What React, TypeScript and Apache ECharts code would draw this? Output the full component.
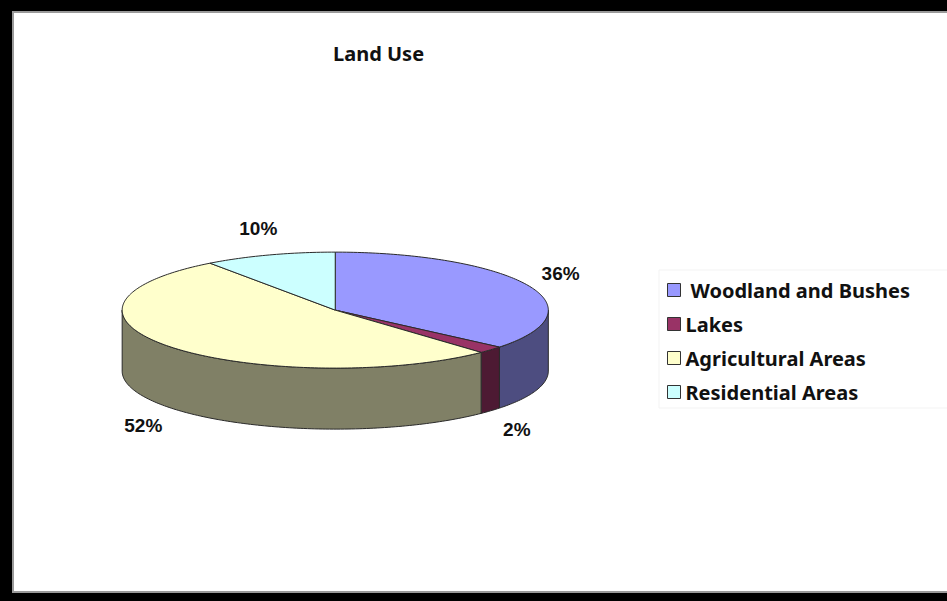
import React, { useEffect, useRef } from "react";
import * as echarts from "echarts";

const categories = ["Woodland and Bushes", "Lakes", "Agricultural Areas", "Residential Areas"];
const values = [36, 2, 52, 10];
const topColors = ["#9999FF", "#993366", "#FFFFCC", "#CCFFFF"];
const sideColors = ["#4D4D80", "#4D1A33", "#808066", "#668080"];
const titleText = "Land Use";

const total = values.reduce((a, b) => a + b, 0);
const starts = values.map((_, i) => values.slice(0, i).reduce((a, b) => a + b, 0));

function renderSlice(params: any, api: any) {
  const i = params.seriesIndex;
  const start = (api.value(0) / total) * Math.PI * 2;
  const end = ((api.value(0) + api.value(1)) / total) * Math.PI * 2;
  const W = api.getWidth();
  const H = api.getHeight();
  const cx = W * 0.354;
  const cy = H * 0.516;
  const rx = W * 0.225;
  const ry = H * 0.0965;
  const depth = H * 0.1015;
  const pt = (t: number, dy = 0) => [cx + rx * Math.sin(t), cy - ry * Math.cos(t) + dy];
  const arc = (a1: number, a2: number, dy = 0) => {
    const n = Math.max(2, Math.ceil(Math.abs(a2 - a1) / (Math.PI / 180)));
    const out: number[][] = [];
    for (let k = 0; k <= n; k++) out.push(pt(a1 + ((a2 - a1) * k) / n, dy));
    return out;
  };
  const children: any[] = [];
  const s1 = Math.max(start, Math.PI / 2);
  const s2 = Math.min(end, (Math.PI * 3) / 2);
  if (s2 > s1) {
    const pts = arc(s1, s2).concat(arc(s2, s1, depth));
    children.push({
      type: "polygon",
      z2: 1,
      shape: { points: pts },
      style: { fill: sideColors[i], stroke: "#2a2a2a", lineWidth: 1 },
    });
  }
  children.push({
    type: "polygon",
    z2: 10,
    shape: { points: [[cx, cy]].concat(arc(start, end)) },
    style: { fill: topColors[i], stroke: "#2a2a2a", lineWidth: 1 },
  });
  const mid = (start + end) / 2;
  const lx = cx + (rx + 36) * Math.sin(mid);
  const ly = cy - (ry + 28) * Math.cos(mid) + (Math.cos(mid) < 0 ? depth : 0);
  children.push({
    type: "text",
    z2: 20,
    x: lx,
    y: ly,
    style: {
      text: `${values[i]}%`,
      fill: "#111",
      font: "bold 19px 'Liberation Sans', Arial, sans-serif",
      align: "center",
      verticalAlign: "middle",
    },
  });
  return { type: "group", children };
}

export default function App() {
  const ref = useRef<HTMLDivElement>(null);
  useEffect(() => {
    document.body.style.margin = "0";
    const chart = echarts.init(ref.current!, null, { renderer: "svg" });
    const font = "'Noto Sans', 'Noto Sans CJK KR', sans-serif";
    chart.setOption({
      animation: false,
      backgroundColor: "#ffffff",
      title: {
        text: titleText,
        left: 333,
        top: 43,
        padding: 0,
        textStyle: { fontFamily: font, fontWeight: "bold", fontSize: 20, color: "#111" },
      },
      legend: {
        orient: "vertical",
        left: 667,
        top: 280,
        padding: 0,
        icon: "rect",
        itemWidth: 13,
        itemHeight: 13,
        itemGap: 14,
        selectedMode: false,
        data: categories,
        itemStyle: { borderColor: "#333", borderWidth: 1 },
        formatter: (name: string) => (name === categories[0] ? `{pad|${name}}` : name),
        textStyle: {
          fontFamily: font,
          fontWeight: "bold",
          fontSize: 20,
          lineHeight: 20,
          color: "#111",
          rich: {
            pad: { padding: [0, 0, 0, 5], fontFamily: font, fontWeight: "bold", fontSize: 20, lineHeight: 20, color: "#111" },
          },
        },
      },
      graphic: [
        { type: "rect", shape: { x: 659, y: 270, width: 320, height: 138 }, style: { fill: "none", stroke: "#f3f3f3", lineWidth: 1 } },
        { type: "rect", shape: { x: 12, y: 11, width: 2, height: 582 }, style: { fill: "#9a9a9a" } },
        { type: "rect", shape: { x: 12, y: 11, width: 947, height: 2 }, style: { fill: "#9a9a9a" } },
        { type: "rect", shape: { x: 12, y: 591, width: 947, height: 2 }, style: { fill: "#9a9a9a" } },
        { type: "rect", shape: { x: 0, y: 0, width: 12, height: 601 }, style: { fill: "#000" } },
        { type: "rect", shape: { x: 0, y: 0, width: 947, height: 11 }, style: { fill: "#000" } },
        { type: "rect", shape: { x: 0, y: 593, width: 947, height: 8 }, style: { fill: "#000" } },
      ],
      series: categories.map((name, i) => ({
        type: "custom",
        name,
        coordinateSystem: "none",
        itemStyle: { color: topColors[i] },
        renderItem: renderSlice,
        data: [[starts[i], values[i]]],
      })),
    });
    return () => chart.dispose();
  }, []);
  return <div ref={ref} style={{ width: 947, height: 601 }} />;
}
